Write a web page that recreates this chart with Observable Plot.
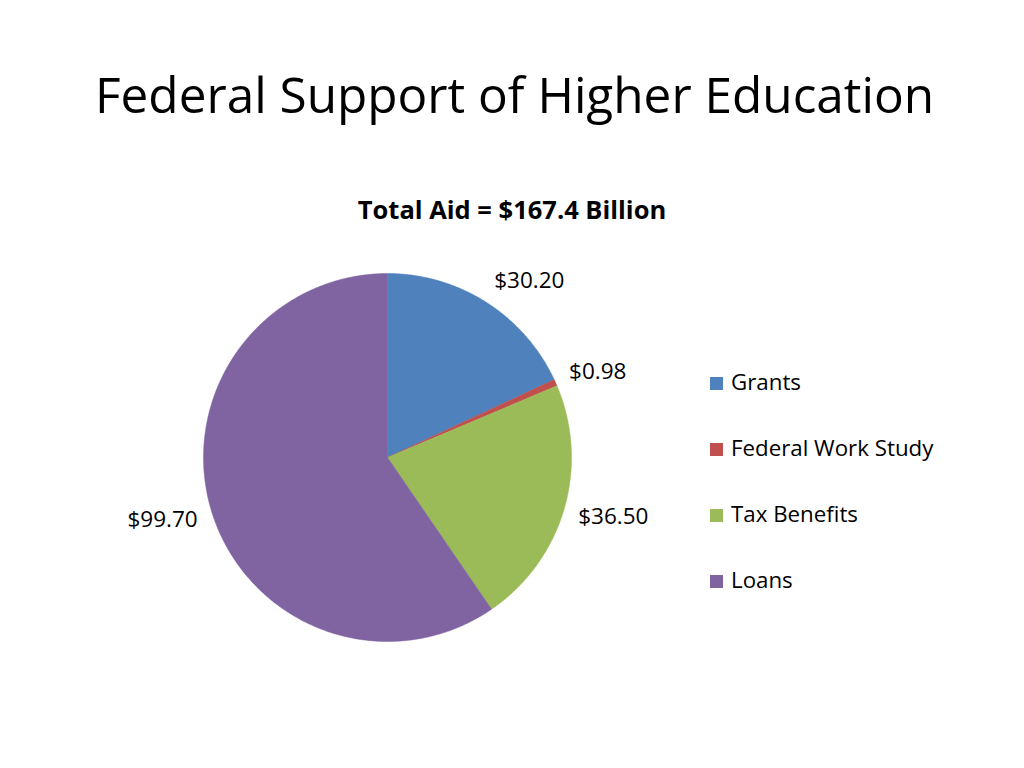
<!DOCTYPE html>
<html>
<head>
<meta charset="utf-8">
<script src="https://cdn.jsdelivr.net/npm/d3@7"></script>
<script src="https://cdn.jsdelivr.net/npm/@observablehq/plot@0.6"></script>
<style>
  html, body { margin: 0; padding: 0; background: #fff; }
  #wrap { position: relative; width: 1024px; height: 768px; overflow: hidden; font-family: "Open Sans", Lato, sans-serif; font-variant-ligatures: none; }
  #title { position: absolute; left: 95px; top: 70px; font-size: 49.5px; color: #000; white-space: nowrap; line-height: 1; }
  #subtitle { position: absolute; left: 0; width: 1024px; top: 196.5px; text-align: center; font-size: 25.5px; font-weight: bold; color: #000; line-height: 1; }
  #chart { position: absolute; left: 0; top: 220px; }
  .lt { position: absolute; white-space: nowrap; font-size: 22.3px; line-height: 1; color: #000; }
  .sw { position: absolute; width: 13px; height: 13px; }
</style>
</head>
<body>
<div id="wrap">
  <div id="title">Federal Support of Higher Education</div>
  <div id="subtitle">Total Aid = $167.4 Billion</div>
  <div id="chart"></div>
  <div id="legend"></div>
</div>
<script>
const categories = ["Grants", "Federal Work Study", "Tax Benefits", "Loans"];
const values = [30.20, 0.98, 36.50, 99.70];
const labels = ["$30.20", "$0.98", "$36.50", "$99.70"];
const colors = ["#4F81BD", "#C0504D", "#9BBB59", "#8064A2"];

// layout
const W = 1024, H = 520, R = 184, CX = 387, CY = 237;

const pie = d3.pie().sort(null).value(d => d.value)(categories.map((c, i) => ({category: c, value: values[i], label: labels[i]})));

// polygon points for each slice (angle from 12 o'clock, clockwise)
const pts = [];
for (const s of pie) {
  const cat = s.data.category;
  pts.push({category: cat, x: 0, y: 0});
  const n = Math.max(2, Math.ceil((s.endAngle - s.startAngle) / (Math.PI / 360)));
  for (let k = 0; k <= n; k++) {
    const a = s.startAngle + (s.endAngle - s.startAngle) * k / n;
    pts.push({category: cat, x: Math.sin(a), y: Math.cos(a)});
  }
  pts.push({category: cat, x: 0, y: 0});
}

const lab = pie.map(s => {
  const a = (s.startAngle + s.endAngle) / 2;
  const r = 1.08;
  return {label: s.data.label, x: r * Math.sin(a), y: r * Math.cos(a) + Math.cos(a) * 11 / R, anchor: Math.sin(a) >= 0 ? "start" : "end"};
});

const plot = Plot.plot({
  width: W, height: H,
  margin: 0,
  x: {domain: [-CX / R, (W - CX) / R], axis: null},
  y: {domain: [-(H - CY) / R, CY / R], axis: null},
  color: {domain: categories, range: colors},
  style: {fontFamily: "'Open Sans', Lato, sans-serif", background: "transparent"},
  marks: [
    Plot.line(pts, {x: "x", y: "y", z: "category", fill: "category", stroke: "category", strokeWidth: 0.5, curve: "linear"}),
    Plot.text(lab.filter(d => d.anchor === "start"), {x: "x", y: "y", text: "label", textAnchor: "start", fontSize: 22.5, fill: "#000"}),
    Plot.text(lab.filter(d => d.anchor === "end"), {x: "x", y: "y", text: "label", textAnchor: "end", fontSize: 22.5, fill: "#000"})
  ]
});
document.getElementById("chart").appendChild(plot);

const legendBaselines = [391, 457, 523, 589];
const leg = document.getElementById("legend");
categories.forEach((c, i) => {
  const sw = document.createElement("div");
  sw.className = "sw";
  sw.style.left = "710px";
  sw.style.top = (legendBaselines[i] - 14) + "px";
  sw.style.background = colors[i];
  leg.appendChild(sw);
  const t = document.createElement("div");
  t.className = "lt";
  t.style.left = "731px";
  t.style.top = (legendBaselines[i] - 0.888 * 22.3) + "px";
  t.textContent = c;
  leg.appendChild(t);
});
</script>
</body>
</html>
